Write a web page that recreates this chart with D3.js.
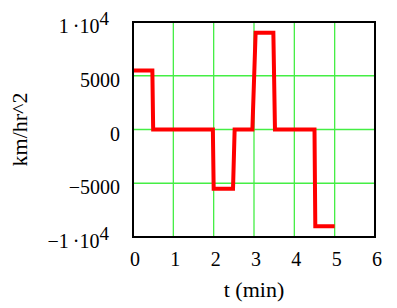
<!DOCTYPE html>
<html>
<head>
<meta charset="UTF-8">
<script src="https://cdn.jsdelivr.net/npm/d3@7"></script>
<style>
  body { margin: 0; background: #fff; }
</style>
</head>
<body>
<svg id="chart" width="397" height="308"></svg>
<script>
// time (min) and acceleration (km/hr^2)
const tVals = [0, 0.48, 0.5, 1.98, 2.0, 2.48, 2.52, 2.96, 3.04, 3.48, 3.52, 4.5, 4.52, 5.0];
const aVals = [5500, 5500, 0, 0, -5500, -5500, 0, 0, 9000, 9000, 0, 0, -9000, -9000];
const xTicks = [0, 1, 2, 3, 4, 5, 6];
const yTicks = [-10000, -5000, 0, 5000, 10000];

const W = 397, H = 308;
const m = { left: 133, right: 22, top: 22, bottom: 71 };
const FONT = 'Liberation Serif';
const svg = d3.select('#chart');

const x = d3.scaleLinear().domain([0, 6]).range([m.left, W - m.right]);
const y = d3.scaleLinear().domain([-10000, 10000]).range([H - m.bottom, m.top]);

// grid lines
const grid = svg.append('g').attr('stroke', '#44ee44').attr('stroke-width', 1.3);
xTicks.slice(1, -1).forEach(v => {
  grid.append('line').attr('x1', x(v)).attr('x2', x(v)).attr('y1', y(10000)).attr('y2', y(-10000));
});
yTicks.slice(1, -1).forEach(v => {
  grid.append('line').attr('x1', x(0)).attr('x2', x(6)).attr('y1', y(v)).attr('y2', y(v));
});

// data line
const line = d3.line().x((d, i) => x(tVals[i])).y(d => y(d));
svg.append('path')
  .attr('d', line(aVals))
  .attr('fill', 'none')
  .attr('stroke', '#ff0000')
  .attr('stroke-width', 4)
  .attr('stroke-linejoin', 'miter');

// frame
svg.append('rect')
  .attr('x', x(0)).attr('y', y(10000))
  .attr('width', x(6) - x(0)).attr('height', y(-10000) - y(10000))
  .attr('fill', 'none').attr('stroke', '#000').attr('stroke-width', 2);

// x tick labels
svg.append('g').selectAll('text').data(xTicks).join('text')
  .attr('x', d => x(d) + 2)
  .attr('y', 266)
  .attr('text-anchor', 'middle')
  .attr('font-family', FONT)
  .attr('font-size', 20)
  .text(d => d);

// y tick labels
yTicks.forEach(v => {
  const t = svg.append('text')
    .attr('x', 120)
    .attr('y', y(v) + 11)
    .attr('text-anchor', 'end')
    .attr('font-family', FONT)
    .attr('font-size', 20);
  const neg = v < 0 ? '\u2212' : '';
  if (Math.abs(v) === 10000) {
    t.attr('x', 109);
    t.append('tspan').text(neg + '1\u2009\u00b710');
    t.append('tspan').attr('dy', -8).attr('font-size', 19).text('4');
  } else {
    t.text(v === 0 ? '0' : neg + Math.abs(v));
  }
});

// axis titles
svg.append('text')
  .attr('transform', `translate(27,${(y(10000) + y(-10000)) / 2}) rotate(-90)`)
  .attr('text-anchor', 'middle')
  .attr('font-family', FONT)
  .attr('font-size', 22)
  .text('km/hr^2');

svg.append('text')
  .attr('x', 254)
  .attr('y', 297)
  .attr('text-anchor', 'middle')
  .attr('font-family', FONT)
  .attr('font-size', 22)
  .text('t (min)');
</script>
</body>
</html>
